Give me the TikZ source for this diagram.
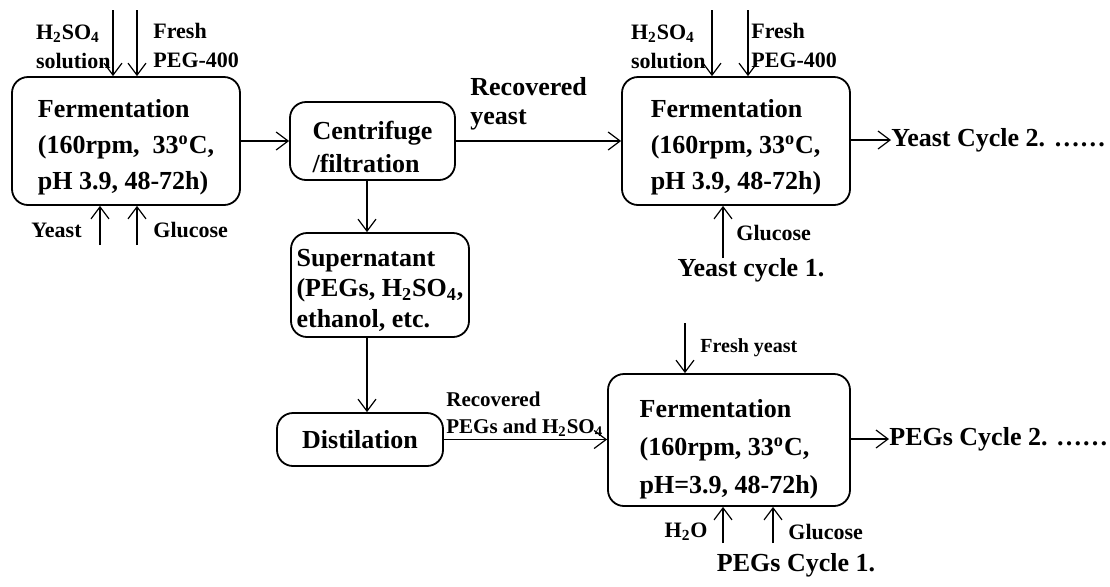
\documentclass[tikz,border=0pt]{standalone}
\usepackage{fontspec}
\setmainfont{Liberation Serif}
\usepackage{tikz}
\usetikzlibrary{shapes,arrows.meta,positioning}

\newcommand{\boxfont}{\fontsize{13}{18}\selectfont\bfseries}
\newcommand{\bigfont}{\fontsize{13}{14.5}\selectfont\bfseries}
\newcommand{\lblfont}{\fontsize{11}{14.5}\selectfont\bfseries}

\begin{document}
\begin{tikzpicture}[x=0.5pt,y=-0.5pt,
    box/.style={draw, rounded corners=8pt, line width=0.9pt, align=left, font=\boxfont, inner sep=0pt},
    lbl/.style={inner sep=0pt, align=left, font=\lblfont},
    big/.style={inner sep=0pt, align=left, font=\bigfont},
    flow/.style={-{Straight Barb[length=6pt,width=9pt]}, line width=0.6pt}]
    \useasboundingbox (0,0) rectangle (1110,586);

    % Boxes
    \node[box, minimum width=114pt, minimum height=64pt] (ferm1) at (126,141)
        {\rule{0pt}{15pt}Fermentation\\(160rpm,\ \ 33\textsuperscript{o}C,\\pH 3.9, 48-72h)};
    \node[box, minimum width=82.5pt, minimum height=39pt, font=\fontsize{13}{16.5}\selectfont\bfseries] (cent) at (372.5,141)
        {\rule{0pt}{15pt}Centrifuge\\/filtration};
    \node[box, minimum width=89pt, minimum height=52pt, font=\fontsize{13}{15.5}\selectfont\bfseries] (super) at (380,285)
        {\rule{0pt}{14pt}Supernatant\\(PEGs, H\textsubscript{2}SO\textsubscript{4},\\ethanol, etc.};
    \node[box, minimum width=83pt, minimum height=26.5pt] (dist) at (360,439.5) {Distilation};
    \node[box, minimum width=114pt, minimum height=64pt] (ferm2) at (736,141)
        {\rule{0pt}{15pt}Fermentation\\(160rpm, 33\textsuperscript{o}C,\\pH 3.9, 48-72h)};
    \node[box, minimum width=121pt, minimum height=66pt, font=\fontsize{13}{19}\selectfont\bfseries] (ferm3) at (729,440)
        {\rule{0pt}{18pt}Fermentation\\(160rpm, 33\textsuperscript{o}C,\\pH=3.9, 48-72h)};

    % Labels
    \node[lbl, anchor=east] (acid1) at (111,47) {H\textsubscript{2}SO\textsubscript{4}\\solution};
    \node[lbl, anchor=west] (peg1) at (153,45) {Fresh\\PEG-400};
    \node[lbl, anchor=east] (yst1) at (82,230) {Yeast};
    \node[lbl, anchor=west] (glc1) at (153,230) {Glucose};
    \node[big, anchor=west] (recy) at (470,104) {Recovered\\yeast};
    \node[lbl, anchor=east] (acid2) at (706,47) {H\textsubscript{2}SO\textsubscript{4}\\solution};
    \node[lbl, anchor=west] (peg2) at (751,45) {Fresh\\PEG-400};
    \node[lbl, anchor=west] (glc2) at (736,233) {Glucose};
    \node[big] (yc1) at (751,270) {Yeast cycle 1.};
    \node[big, anchor=west] (yc2) at (891,140) {Yeast Cycle 2. ……};
    \node[lbl, anchor=west, font=\fontsize{10.5}{13.5}\selectfont\bfseries] (recp) at (446,414)
        {Recovered\\PEGs and H\textsubscript{2}SO\textsubscript{4}};
    \node[lbl, anchor=west, font=\fontsize{10}{12}\selectfont\bfseries] (fyst) at (700,348) {Fresh yeast};
    \node[lbl, anchor=east] (wat3) at (708,532) {H\textsubscript{2}O};
    \node[lbl, anchor=west] (glc3) at (788,532) {Glucose};
    \node[big] (pc1) at (796,565) {PEGs Cycle 1.};
    \node[big, anchor=west] (pc2) at (889,439) {PEGs Cycle 2. ……};

    % Feed points
    \coordinate (a1) at (113,10);
    \coordinate (f1) at (137,10);
    \coordinate (y1) at (100,245);
    \coordinate (g1) at (137,245);
    \coordinate (a2) at (712,10);
    \coordinate (f2) at (748,10);
    \coordinate (g2) at (723,258);
    \coordinate (fy3) at (685,323);
    \coordinate (w3) at (723,543);
    \coordinate (g3) at (773,543);
    \coordinate (col) at (367,0);

    % Arrows
    \draw[flow] (a1) -- (a1 |- ferm1.north);
    \draw[flow] (f1) -- (f1 |- ferm1.north);
    \draw[flow] (y1) -- (y1 |- ferm1.south);
    \draw[flow] (g1) -- (g1 |- ferm1.south);
    \draw[flow] (ferm1.east) -- (cent.west);
    \draw[flow] (cent.east) -- (ferm2.west);
    \draw[flow] (cent.south -| col) -- (super.north -| col);
    \draw[flow] (super.south -| col) -- (dist.north -| col);
    \draw[flow] (dist.east) -- (ferm3.west |- dist.east);
    \draw[flow] (a2) -- (a2 |- ferm2.north);
    \draw[flow] (f2) -- (f2 |- ferm2.north);
    \draw[flow] (g2) -- (g2 |- ferm2.south);
    \draw[flow] (ferm2.east |- yc2.west) -- (yc2.west);
    \draw[flow] (fy3) -- (fy3 |- ferm3.north);
    \draw[flow] (w3) -- (w3 |- ferm3.south);
    \draw[flow] (g3) -- (g3 |- ferm3.south);
    \draw[flow] (ferm3.east |- pc2.west) -- (pc2.west);
\end{tikzpicture}
\end{document}
